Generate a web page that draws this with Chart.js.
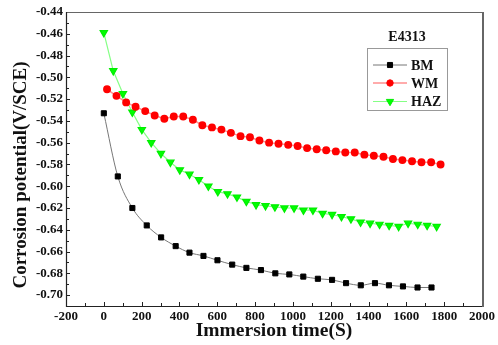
<!DOCTYPE html>
<html>
<head>
<meta charset="utf-8">
<script src="https://cdn.jsdelivr.net/npm/chart.js@4.4.1/dist/chart.umd.min.js"></script>
<style>
  html, body { margin: 0; padding: 0; background: #fff; }
  #box { width: 498px; height: 345px; }
</style>
</head>
<body>
<div id="box"><canvas id="myChart" width="498" height="345"></canvas></div>
<script>
// immersion time (s) and corrosion potential (V/SCE)
const bmTime = [0, 74, 151, 227, 303, 380, 453, 527, 601, 679, 754, 831, 907, 981, 1055, 1132, 1207, 1281, 1359, 1434, 1508, 1582, 1659, 1733];
const bmPotential = [-0.533, -0.591, -0.620, -0.636, -0.647, -0.655, -0.661, -0.664, -0.668, -0.672, -0.675, -0.677, -0.680, -0.681, -0.683, -0.685, -0.686, -0.689, -0.691, -0.689, -0.691, -0.692, -0.693, -0.693];

const wmTime = [17, 67, 118, 168, 219, 269, 320, 370, 420, 471, 521, 572, 622, 672, 723, 773, 823, 874, 924, 975, 1025, 1075, 1126, 1176, 1227, 1277, 1327, 1378, 1428, 1479, 1529, 1579, 1630, 1680, 1731, 1781];
const wmPotential = [-0.511, -0.517, -0.523, -0.527, -0.531, -0.535, -0.538, -0.536, -0.536, -0.539, -0.544, -0.546, -0.548, -0.551, -0.554, -0.555, -0.558, -0.560, -0.561, -0.562, -0.563, -0.565, -0.566, -0.567, -0.568, -0.569, -0.569, -0.571, -0.572, -0.573, -0.575, -0.576, -0.577, -0.578, -0.578, -0.580];

const hazTime = [0, 50, 101, 151, 201, 251, 302, 352, 402, 453, 503, 553, 603, 654, 704, 754, 805, 855, 905, 955, 1006, 1056, 1106, 1157, 1207, 1257, 1307, 1358, 1408, 1458, 1509, 1559, 1609, 1660, 1710, 1760];
const hazPotential = [-0.459, -0.494, -0.515, -0.532, -0.548, -0.560, -0.570, -0.578, -0.585, -0.589, -0.594, -0.600, -0.605, -0.607, -0.610, -0.614, -0.617, -0.618, -0.619, -0.620, -0.620, -0.622, -0.622, -0.625, -0.626, -0.628, -0.630, -0.633, -0.634, -0.635, -0.636, -0.637, -0.634, -0.635, -0.636, -0.637];

const xTicks = [-200, 0, 200, 400, 600, 800, 1000, 1200, 1400, 1600, 1800, 2000];
const yTicks = [-0.70, -0.68, -0.66, -0.64, -0.62, -0.60, -0.58, -0.56, -0.54, -0.52, -0.50, -0.48, -0.46, -0.44];

const legendTitle = 'E4313';
const xTitle = 'Immersion time(S)';
const yTitle = 'Corrosion potential(V/SCE)';

const serif = '"Liberation Serif", "Times New Roman", serif';

function toPoints(xs, ys) {
    return xs.map((x, i) => ({ x: x, y: ys[i] }));
}

// frame, inward ticks, y title and the boxed legend
const framePlugin = {
    id: 'frame',
    afterDraw(chart) {
        const ctx = chart.ctx;
        const a = chart.chartArea;
        const xs = chart.scales.x;
        const ys = chart.scales.y;
        ctx.save();

        // inward ticks (major + minor)
        ctx.strokeStyle = '#222';
        ctx.lineWidth = 1;
        ctx.beginPath();
        for (let i = 0; i < xTicks.length; i++) {
            const px = Math.round(xs.getPixelForValue(xTicks[i])) + 0.5;
            ctx.moveTo(px, a.bottom);
            ctx.lineTo(px, a.bottom - 4);
            if (i < xTicks.length - 1) {
                const mx = Math.round(xs.getPixelForValue((xTicks[i] + xTicks[i + 1]) / 2)) + 0.5;
                ctx.moveTo(mx, a.bottom);
                ctx.lineTo(mx, a.bottom - 3);
            }
        }
        for (let i = 0; i < yTicks.length; i++) {
            const py = Math.round(ys.getPixelForValue(yTicks[i])) + 0.5;
            ctx.moveTo(a.left, py);
            ctx.lineTo(a.left + 4, py);
            if (i > 0) {
                const my = Math.round(ys.getPixelForValue((yTicks[i] + yTicks[i - 1]) / 2)) + 0.5;
                ctx.moveTo(a.left, my);
                ctx.lineTo(a.left + 3, my);
            }
        }
        const belowMin = Math.round(ys.getPixelForValue(yTicks[0] - 0.01)) + 0.5;
        ctx.moveTo(a.left, belowMin);
        ctx.lineTo(a.left + 3, belowMin);
        ctx.stroke();

        // plot frame
        ctx.strokeStyle = '#666';
        ctx.lineWidth = 1;
        ctx.beginPath();
        ctx.moveTo(a.left, a.top + 0.5);
        ctx.lineTo(a.right, a.top + 0.5);
        ctx.stroke();
        ctx.lineWidth = 2;
        ctx.beginPath();
        ctx.moveTo(a.right + 1, a.top);
        ctx.lineTo(a.right + 1, a.bottom + 1);
        ctx.stroke();
        ctx.strokeStyle = '#222';
        ctx.lineWidth = 1.2;
        ctx.beginPath();
        ctx.moveTo(a.left + 0.5, a.top);
        ctx.lineTo(a.left + 0.5, a.bottom + 0.5);
        ctx.lineTo(a.right, a.bottom + 0.5);
        ctx.stroke();

        // y axis title
        ctx.fillStyle = '#111';
        ctx.font = 'bold 19px ' + serif;
        ctx.textAlign = 'center';
        ctx.textBaseline = 'middle';
        ctx.translate(21, 175);
        ctx.rotate(-Math.PI / 2);
        ctx.fillText(yTitle, 0, 0);
        ctx.setTransform(1, 0, 0, 1, 0, 0);

        // legend
        ctx.font = 'bold 14px ' + serif;
        ctx.fillText(legendTitle, 407, 37);
        ctx.strokeStyle = '#999';
        ctx.lineWidth = 1;
        ctx.strokeRect(367.5, 48.5, 80, 62);
        const rowY = [65, 83, 101.5];
        ctx.textAlign = 'left';
        chart.data.datasets.forEach((ds, i) => {
            const y = rowY[i];
            ctx.strokeStyle = ds.borderColor;
            ctx.lineWidth = ds.borderWidth;
            ctx.beginPath();
            ctx.moveTo(373, y);
            ctx.lineTo(407, y);
            ctx.stroke();
            ctx.fillStyle = ds.pointBackgroundColor;
            ctx.strokeStyle = ds.pointBorderColor;
            ctx.lineWidth = 1;
            Chart.helpers.drawPoint(ctx, {
                pointStyle: ds.pointStyle,
                radius: ds.pointRadius,
                rotation: ds.pointRotation || 0,
                borderWidth: 1
            }, 390, y);
            ctx.fillStyle = '#111';
            ctx.fillText(ds.label, 411, y + 1);
        });
        ctx.restore();
    }
};

const ctx = document.getElementById('myChart');

new Chart(ctx,
{
    type: 'line',
    data:
    {
        datasets:
        [
            {
                label: 'BM',
                data: toPoints(bmTime, bmPotential),
                borderColor: '#777777',
                borderWidth: 1,
                tension: 0.4,
                cubicInterpolationMode: 'monotone',
                pointStyle: 'rect',
                pointRadius: 3.6,
                pointBackgroundColor: '#000000',
                pointBorderColor: '#000000'
            },
            {
                label: 'WM',
                data: toPoints(wmTime, wmPotential),
                borderColor: '#ff8f8f',
                borderWidth: 1.5,
                tension: 0,
                pointStyle: 'circle',
                pointRadius: 3.2,
                pointBackgroundColor: '#ff0000',
                pointBorderColor: '#ff0000'
            },
            {
                label: 'HAZ',
                data: toPoints(hazTime, hazPotential),
                borderColor: '#85ff85',
                borderWidth: 1.2,
                tension: 0,
                pointStyle: 'triangle',
                pointRotation: 180,
                pointRadius: 4.2,
                pointBackgroundColor: '#00ff00',
                pointBorderColor: '#00ee00'
            }
        ]
    },
    options:
    {
        responsive: false,
        animation: false,
        devicePixelRatio: 1,
        layout: { padding: { left: 0, top: 12, right: 15, bottom: 0 } },
        scales:
        {
            x:
            {
                type: 'linear',
                min: -200,
                max: 2000,
                afterBuildTicks: (scale) => { scale.ticks = xTicks.map(v => ({ value: v })); },
                afterFit: (scale) => { scale.height = 39; },
                grid: { display: false, drawTicks: false },
                border: { display: false },
                ticks:
                {
                    autoSkip: false,
                    maxRotation: 0,
                    padding: 3,
                    color: '#111',
                    font: { family: serif, size: 13, weight: 'bold' },
                    callback: (v) => String(v)
                },
                title:
                {
                    display: true,
                    text: xTitle,
                    color: '#111',
                    padding: { top: 0, bottom: 2 },
                    font: { family: serif, size: 19.5, weight: 'bold' }
                }
            },
            y:
            {
                type: 'linear',
                min: -0.71,
                max: -0.44,
                afterBuildTicks: (scale) => { scale.ticks = yTicks.map(v => ({ value: v })); },
                afterFit: (scale) => { scale.width = 66; },
                grid: { display: false, drawTicks: false },
                border: { display: false },
                ticks:
                {
                    autoSkip: false,
                    padding: 3,
                    color: '#111',
                    font: { family: serif, size: 13, weight: 'bold' },
                    callback: (v) => v.toFixed(2)
                }
            }
        },
        plugins:
        {
            legend: { display: false },
            tooltip: { enabled: false }
        }
    },
    plugins: [framePlugin]
});
</script>
</body>
</html>
